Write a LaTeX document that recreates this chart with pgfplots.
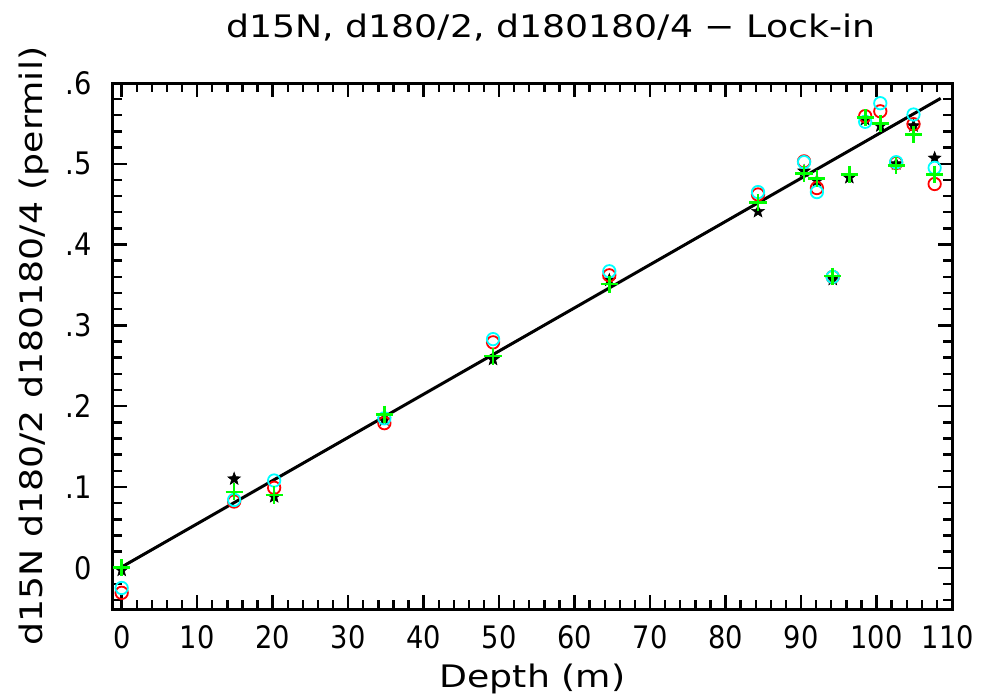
\documentclass[border=0pt]{standalone}
\usepackage{fontspec}
\setmainfont[FakeStretch=1.17]{DejaVu Sans}
\newfontfamily\tickfont[FakeStretch=0.88]{DejaVu Sans}
\usepackage{pgfplots}
\pgfplotsset{compat=1.18}

\definecolor{fitblack}{RGB}{0,0,0}
\definecolor{ptred}{RGB}{255,0,0}
\definecolor{ptcyan}{RGB}{0,255,255}
\definecolor{ptgreen}{RGB}{0,255,0}

% filled five-pointed star
\pgfdeclareplotmark{fstar}{%
  \pgfpathmoveto{\pgfpointpolar{90}{\pgfplotmarksize}}%
  \pgfpathlineto{\pgfpointpolar{126}{0.42\pgfplotmarksize}}%
  \pgfpathlineto{\pgfpointpolar{162}{\pgfplotmarksize}}%
  \pgfpathlineto{\pgfpointpolar{198}{0.42\pgfplotmarksize}}%
  \pgfpathlineto{\pgfpointpolar{234}{\pgfplotmarksize}}%
  \pgfpathlineto{\pgfpointpolar{270}{0.42\pgfplotmarksize}}%
  \pgfpathlineto{\pgfpointpolar{306}{\pgfplotmarksize}}%
  \pgfpathlineto{\pgfpointpolar{342}{0.42\pgfplotmarksize}}%
  \pgfpathlineto{\pgfpointpolar{18}{\pgfplotmarksize}}%
  \pgfpathlineto{\pgfpointpolar{54}{0.42\pgfplotmarksize}}%
  \pgfpathclose
  \pgfusepathqfillstroke
}

\begin{document}
\begin{tikzpicture}[font=\fontsize{15.5bp}{18bp}\selectfont]
\begin{axis}[
  scale only axis,
  width=419.5bp, height=263bp,
  xmin=-1.15, xmax=110,
  ymin=-0.051, ymax=0.6,
  axis line style={line width=1.5bp},
  every tick/.style={black, line width=1.2bp},
  tick align=inside,
  tick pos=both,
  major tick length=7bp,
  minor tick length=4.5bp,
  xtick={0,10,...,110},
  xticklabels={0,10,20,30,40,50,60,70,80,90,100,\hspace*{-4bp}110},
  minor xtick={0,2,...,110},
  ytick={0,0.1,0.2,0.3,0.4,0.5,0.6},
  yticklabels={0,.1,.2,.3,.4,.5,.6},
  minor ytick={-0.04,-0.02,0,0.02,...,0.6},
  tick label style={font=\fontsize{15.5bp}{18bp}\tickfont},
  xticklabel style={anchor=center, yshift=-14bp},
  yticklabel style={anchor=east, inner sep=0pt, xshift=-10.5bp},
  xlabel={Depth (m)},
  ylabel={d15N d180/2 d180180/4 (permil)},
  xlabel style={at={(axis description cs:0.5,-0.133)}, anchor=center},
  ylabel style={at={(axis description cs:-0.094,0.5)}, anchor=center},
  title={d15N, d180/2, d180180/4 − Lock-in},
  title style={at={(axis description cs:0.522,1.082)}, anchor=center},
  clip=false,
]

% linear fit
\addplot[fitblack, line width=1.5bp] coordinates {(0,0.001) (108.5,0.581)};

% d15N
\addplot[only marks, mark=fstar, mark size=3.3bp, fitblack, line width=0.3bp] coordinates {
(0,-0.003) (14.9,0.110) (20.2,0.088) (34.8,0.183) (49.2,0.258) (64.6,0.356)
(84.3,0.441) (90.4,0.491) (92.1,0.479) (94.2,0.357) (96.4,0.483) (98.5,0.555)
(100.5,0.547) (102.6,0.500) (104.9,0.547) (107.7,0.507)};

% d18O/2
\addplot[only marks, mark=o, mark size=3.1bp, ptred, line width=0.9bp] coordinates {
(0,-0.031) (14.9,0.082) (20.2,0.099) (34.8,0.179) (49.2,0.279) (64.6,0.362)
(84.3,0.462) (90.4,0.503) (92.1,0.470) (94.2,0.360) (98.5,0.559) (100.5,0.565)
(102.6,0.501) (104.9,0.549) (107.7,0.475)};

% d18O18O/4
\addplot[only marks, mark=o, mark size=3.1bp, ptcyan, line width=0.9bp] coordinates {
(0,-0.025) (14.9,0.084) (20.2,0.108) (34.8,0.185) (49.2,0.283) (64.6,0.367)
(84.3,0.465) (90.4,0.502) (92.1,0.465) (94.2,0.360) (98.5,0.552) (100.5,0.575)
(102.6,0.502) (104.9,0.561) (107.7,0.495)};

% lock-in
\addplot[only marks, mark=+, mark size=4.3bp, ptgreen, line width=1.3bp] coordinates {
(0,0.000) (14.9,0.094) (20.2,0.090) (34.8,0.190) (49.2,0.262) (64.6,0.351)
(84.3,0.452) (90.4,0.488) (92.1,0.482) (94.2,0.361) (96.4,0.487) (98.5,0.557)
(100.5,0.550) (102.6,0.498) (104.9,0.536) (107.7,0.487)};

\end{axis}
\pgfresetboundingbox
\path[use as bounding box] (-56.5bp,-43bp) rectangle (434bp,304.5bp);
\end{tikzpicture}
\end{document}
